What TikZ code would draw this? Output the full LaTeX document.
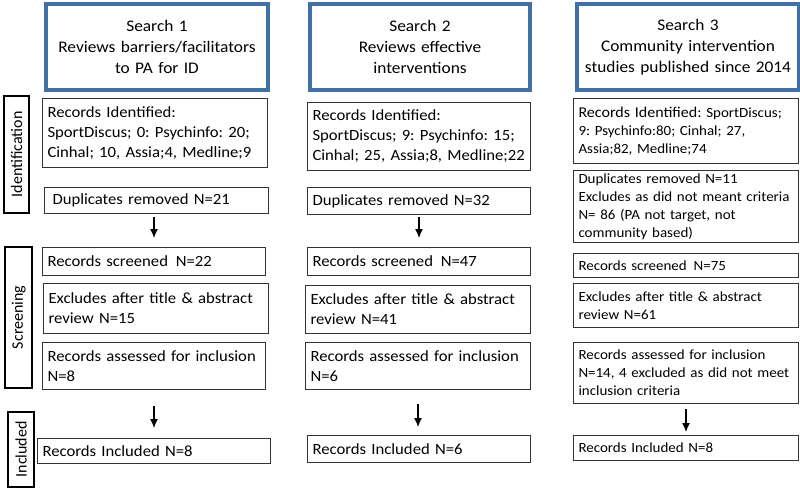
\documentclass[tikz,border=0pt]{standalone}
\usepackage{fontspec}
\setmainfont{Carlito}[FakeStretch=1.07]
\newfontfamily\stagefont{Carlito}
\definecolor{searchblue}{RGB}{65,111,166}
\tikzset{
  search/.style={draw=searchblue, line width=4pt, align=center, anchor=north west,
    inner sep=0pt, font=\fontsize{16.2}{21}\selectfont},
  rec/.style={draw=black!80, line width=1pt, align=left, anchor=north west,
    inner xsep=5pt, inner ysep=0pt, font=\fontsize{15.6}{20}\selectfont},
  small/.style={font=\fontsize{14}{18}\selectfont},
  stage/.style={draw, line width=2.4pt, anchor=north west, inner sep=0pt,
    font=\stagefont\fontsize{16}{18}\selectfont},
  flow/.style={-{Latex[length=9pt,width=8pt]}, line width=1.2pt},
}
\usetikzlibrary{arrows.meta}
\begin{document}
\frenchspacing\hyphenpenalty=10000
\begin{tikzpicture}[x=1pt,y=-1pt]
  \useasboundingbox (0,0) rectangle (800,490);
  % search headings
  \node[search, minimum width=222, minimum height=86, text width=222] (s1) at (44,2)
    {Search 1\\Reviews barriers/facilitators\\to PA for ID};
  \node[search, minimum width=220, minimum height=86, text width=220] (s2) at (308,2)
    {Search 2\\Reviews effective\\interventions};
  \node[search, minimum width=222, minimum height=86, text width=222] (s3) at (575,2)
    {Search 3\\Community intervention\\studies published since 2014};
  % stages
  \node[stage, minimum width=117, minimum height=25] (idt) at (3,214)
    [rotate=90] {Identification};
  \node[stage, minimum width=141, minimum height=27] (scr) at (4,389)
    [rotate=90] {Screening};
  \node[stage, minimum width=75, minimum height=26] (inc) at (7,488)
    [rotate=90] {Included};
  % column 1
  \node[rec, minimum width=225, minimum height=69, text width=215] (id1) at (42,98)
    {Records Identified:\\SportDiscus; 0: Psychinfo: 20;\\Cinhal; 10, Assia;4, Medline;9};
  \node[rec, minimum width=224, minimum height=26, text width=214] (dup1) at (44,187)
    {\hspace{3pt}Duplicates removed N=21};
  \node[rec, minimum width=223, minimum height=28, text width=213] (sc1) at (42,247)
    {Records screened\enspace N=22};
  \node[rec, minimum width=225, minimum height=50, text width=215] (ex1) at (43,283)
    {Excludes after title \& abstract\\review N=15};
  \node[rec, minimum width=223, minimum height=47, text width=213] (as1) at (42,342)
    {Records assessed for inclusion\\N=8};
  \node[rec, minimum width=233, minimum height=25, text width=223] (in1) at (37,438)
    {Records Included N=8};
  % column 2
  \node[rec, minimum width=223, minimum height=68, text width=213] (id2) at (307,102)
    {Records Identified:\\SportDiscus; 9: Psychinfo: 15;\\\mbox{Cinhal; 25, Assia;8, Medline;22}};
  \node[rec, minimum width=223, minimum height=27, text width=213] (dup2) at (307,187)
    {Duplicates removed N=32};
  \node[rec, minimum width=223, minimum height=28, text width=213] (sc2) at (307,247)
    {Records screened\enspace N=47};
  \node[rec, minimum width=225, minimum height=48, text width=215] (ex2) at (305,285)
    {Excludes after title \& abstract\\review N=41};
  \node[rec, minimum width=225, minimum height=47, text width=215] (as2) at (305,342)
    {Records assessed for inclusion\\N=6};
  \node[rec, minimum width=223, minimum height=27, text width=213] (in2) at (307,435)
    {Records Included N=6};
  % column 3
  \node[rec, small, minimum width=225, minimum height=65, text width=215] (id3) at (573,98)
    {{\fontsize{15}{18}\selectfont Records Identified:} SportDiscus;\\9: Psychinfo:80; Cinhal; 27,\\Assia;82, Medline;74};
  \node[rec, small, minimum width=225, minimum height=72, text width=215] (dup3) at (573,170)
    {Duplicates removed N=11\\Excludes as did not meant criteria\\N= 86 (PA not target, not\\community based)};
  \node[rec, small, minimum width=225, minimum height=24, text width=215] (sc3) at (573,253)
    {Records screened\enspace N=75};
  \node[rec, small, minimum width=225, minimum height=44, text width=215] (ex3) at (573,283)
    {Excludes after title \& abstract\\review N=61};
  \node[rec, small, minimum width=225, minimum height=61, text width=215] (as3) at (573,342)
    {Records assessed for inclusion\\N=14, 4 excluded as did not meet\\inclusion criteria};
  \node[rec, small, minimum width=225, minimum height=25, text width=215] (in3) at (573,435)
    {Records Included N=8};
  % arrows
  \draw[flow, shorten <=3pt, shorten >=9pt] (dup1.south -| sc1.north) to (sc1.north);
  \draw[flow, shorten <=16pt, shorten >=10pt] (as1.south) to (as1.south |- in1.north);
  \draw[flow, shorten <=2pt, shorten >=9pt] (dup2.south) to (dup2.south |- sc2.north);
  \draw[flow, shorten <=14pt, shorten >=8pt] (as2.south) to (as2.south |- in2.north);
  \draw[flow, shorten <=5pt, shorten >=3pt] (as3.south) to (as3.south |- in3.north);
\end{tikzpicture}
\end{document}
